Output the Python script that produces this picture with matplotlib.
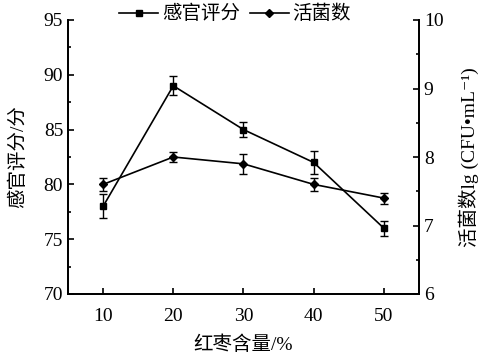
import matplotlib
matplotlib.use("Agg")
import matplotlib.pyplot as plt
from matplotlib.ticker import MultipleLocator
from matplotlib.lines import Line2D

plt.rcParams['font.family'] = ['Liberation Serif', 'Noto Sans CJK SC', 'DejaVu Sans']

x = [10, 20, 30, 40, 50]
score = [78, 89, 85, 82, 76]
score_err = [1.1, 0.85, 0.7, 1.05, 0.7]
viable = [7.6, 8.0, 7.9, 7.6, 7.4]
viable_err = [0.1, 0.08, 0.15, 0.1, 0.08]
xticks = [10, 20, 30, 40, 50]

fig = plt.figure(figsize=(4.8, 3.58), dpi=100)
ax = fig.add_axes([68/480, 1-294/358, (419-68)/480, (294-20)/358])
ax2 = ax.twinx()

ax.errorbar(x, score, yerr=score_err, color='black', marker='s', markersize=5,
            lw=1.2, capsize=3, elinewidth=1.0, capthick=1.0)
ax2.errorbar(x, viable, yerr=viable_err, color='black', marker='D', markersize=4.5,
             lw=1.2, capsize=3, elinewidth=1.0, capthick=1.0)

ax.set_xlim(5, 55)
ax.set_ylim(70, 95)
ax2.set_ylim(6, 10)
ax.set_xticks(xticks)
ax.yaxis.set_major_locator(MultipleLocator(5))
ax.yaxis.set_minor_locator(MultipleLocator(2.5))
ax2.yaxis.set_major_locator(MultipleLocator(1))
ax2.yaxis.set_minor_locator(MultipleLocator(0.5))

for a in (ax, ax2):
    a.spines['top'].set_visible(False)
    for s in a.spines.values():
        s.set_linewidth(1.3)
    a.tick_params(direction='in', length=4, width=1.2, labelsize=14)
    a.tick_params(which='minor', direction='in', length=2.5, width=1.2)
ax.tick_params(axis='x', pad=10)

ax.set_xlabel('红枣含量/%', fontsize=14, labelpad=8)
ax.set_ylabel('感官评分/分', fontsize=14, labelpad=12)
ax2.set_ylabel('活菌数lg (CFU•mL⁻¹)', fontsize=14, labelpad=11)

h1 = Line2D([], [], color='black', marker='s', markersize=5, lw=1.2)
h2 = Line2D([], [], color='black', marker='D', markersize=4.5, lw=1.2)
fig.legend(handles=[h1, h2], labels=['感官评分', '活菌数'], loc='upper center',
           bbox_to_anchor=(0.49, 1.035), ncol=2, frameon=False, fontsize=14,
           handlelength=2.0, handletextpad=0.2, columnspacing=0.5)

fig.savefig('out.png', dpi=100)
